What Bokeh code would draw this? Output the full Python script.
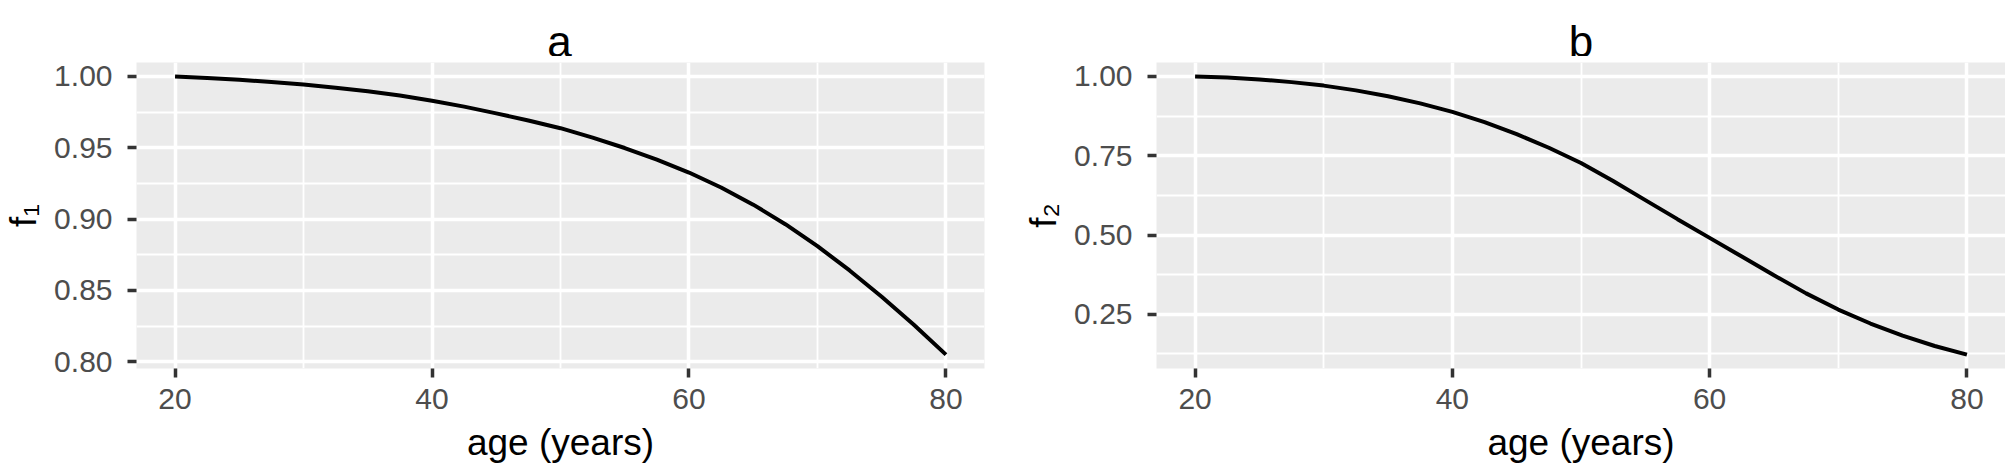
from bokeh.plotting import figure
from bokeh.layouts import row, column
from bokeh.models import FixedTicker, NumeralTickFormatter, Range1d
from bokeh.core.properties import value
from bokeh.embed import file_html
from bokeh.resources import INLINE

# ---- data ----
age = [20, 22.5, 25, 27.5, 30, 32.5, 35, 37.5, 40, 42.5, 45, 47.5, 50,
       52.5, 55, 57.5, 60, 62.5, 65, 67.5, 70, 72.5, 75, 77.5, 80]
f1 = [1.000, 0.9989, 0.9976, 0.9961, 0.9943, 0.9921, 0.9896, 0.9866, 0.9830,
      0.9788, 0.9741, 0.9691, 0.9637, 0.9571, 0.9498, 0.9417, 0.9326, 0.9221,
      0.9101, 0.8964, 0.8810, 0.8640, 0.8455, 0.8259, 0.8050]
f2 = [1.000, 0.9969, 0.9906, 0.982, 0.971, 0.956, 0.9375, 0.915, 0.888,
      0.856, 0.818, 0.775, 0.727, 0.670, 0.610, 0.550, 0.491, 0.432,
      0.373, 0.316, 0.265, 0.221, 0.183, 0.150, 0.123]

x_ticks = [20, 40, 60, 80]
x_minor = [10, 30, 50, 70, 90]
ya_ticks = [0.80, 0.85, 0.90, 0.95, 1.00]
ya_minor = [0.775, 0.825, 0.875, 0.925, 0.975, 1.025]
yb_ticks = [0.25, 0.50, 0.75, 1.00]
yb_minor = [0.125, 0.375, 0.625, 0.875, 1.125]
titles = ["a", "b"]
ylabels = ["f\u2081", "f\u2082"]
xlabel = "age (years)"

FONT = "Liberation Sans"
HEADER_H = 56          # strip holding the panel titles
H = 465 - HEADER_H     # panel height
TOP = 6
BOTTOM = 97
# (figure width, left border, right border) of each panel
PANELS = [(1000, 134, 16), (1005, 156, 0)]
TITLE_BASELINE = 41    # px from top of page (keeps the text box inside the page)
TITLE_SIZE = "44px"


def expand(vals):
    lo, hi = min(vals), max(vals)
    pad = 0.05 * (hi - lo)
    return lo - pad, hi + pad


def panel(ylab, y, yticks, yminor, width, left, right):
    x0, x1 = expand(age)
    y0, y1 = expand(y)
    p = figure(width=width, height=H, output_backend="svg", toolbar_location=None,
               min_border_left=left, min_border_right=right,
               min_border_top=TOP, min_border_bottom=BOTTOM,
               x_range=Range1d(x0, x1), y_range=Range1d(y0, y1))
    p.background_fill_color = "#EBEBEB"
    p.border_fill_color = "white"
    p.outline_line_color = None

    p.xaxis.ticker = FixedTicker(ticks=x_ticks, minor_ticks=x_minor)
    p.yaxis.ticker = FixedTicker(ticks=yticks, minor_ticks=yminor)
    p.yaxis.formatter = NumeralTickFormatter(format="0.00")
    p.xaxis.axis_label = xlabel
    p.yaxis.axis_label = ylab

    for ax in (p.xaxis, p.yaxis):
        ax.axis_line_color = None
        ax.major_tick_in = 0
        ax.major_tick_out = 9
        ax.major_tick_line_color = "#333333"
        ax.major_tick_line_width = 3.5
        ax.minor_tick_line_color = None
        ax.major_label_text_font = FONT
        ax.major_label_text_font_size = "30px"
        ax.major_label_text_color = "#4D4D4D"
        ax.axis_label_text_font = FONT
        ax.axis_label_text_font_size = "37px"
        ax.axis_label_text_font_style = "normal"
        ax.axis_label_text_color = "black"
    p.xaxis.major_label_standoff = 11
    p.xaxis.axis_label_standoff = 10
    p.yaxis.major_label_standoff = 15
    p.yaxis.axis_label_standoff = 7

    for g in (p.xgrid, p.ygrid):
        g.grid_line_color = "white"
        g.grid_line_width = 3.5
        g.minor_grid_line_color = "white"
        g.minor_grid_line_width = 1.8

    p.line(age, y, line_color="black", line_width=4)
    return p


fa = panel(ylabels[0], f1, ya_ticks, ya_minor, *PANELS[0])
fb = panel(ylabels[1], f2, yb_ticks, yb_minor, *PANELS[1])

# header strip with the panel titles, each centred over its panel's plot area
total_w = sum(w for w, _, _ in PANELS)
centres = []
start = 0
for w, l, r in PANELS:
    centres.append(start + l + (w - l - r) / 2)
    start += w

header = figure(width=total_w, height=HEADER_H, output_backend="svg",
                toolbar_location=None, x_axis_type=None, y_axis_type=None,
                min_border=0, min_border_left=0, min_border_right=0,
                min_border_top=0, min_border_bottom=0,
                x_range=Range1d(0, total_w), y_range=Range1d(0, HEADER_H))
try:
    header.title = None
except Exception:
    header.title.text_font_size = "0px"
    header.title.standoff = 0
header.outline_line_color = None
header.background_fill_color = "white"
header.border_fill_color = "white"
header.text(x=centres, y=[HEADER_H - TITLE_BASELINE] * len(centres), text=titles,
            text_align="center", text_baseline="alphabetic",
            text_font=value(FONT), text_font_size=TITLE_SIZE, text_color="black")

layout = column(header, row(fa, fb))
open("out.html", "w").write(file_html(layout, INLINE))
